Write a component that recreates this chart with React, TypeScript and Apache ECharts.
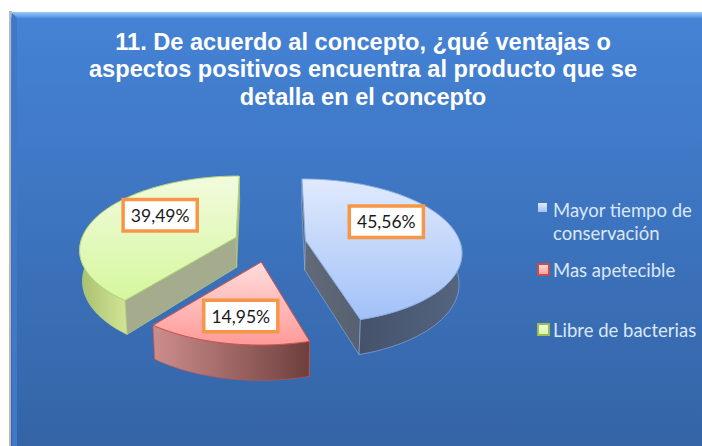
import React, { useEffect, useRef } from "react";
import * as echarts from "echarts";

const titleText = "11. De acuerdo al concepto, ¿qué ventajas o\naspectos positivos encuentra al producto que se\ndetalla en el concepto";
const categories = ["Mayor tiempo de conservación", "Mas apetecible", "Libre de bacterias"];
const shares = [45.56, 14.95, 39.49];

const CX = 269.5, CY = 242.5, R = 154, RY = 70.5, K = 0.151, EXPLODE = 0.24, DEPTH = 30;
const LABEL_OFFSETS = [[81, -18.5], [-20.5, 54], [-76, -22]];
const FONT = "Lato";

const grad = (a: string, b: string, horizontal = false) =>
  new echarts.graphic.LinearGradient(0, 0, horizontal ? 1 : 0, horizontal ? 0 : 1, [
    { offset: 0, color: a },
    { offset: 1, color: b },
  ]);

const looks = [
  { top: ["#e0eafd", "#a2c1f8"], stroke: "#8fb0e6", cut: ["#626a78", "#566070"], outer: ["#44526c", "#56657f"] },
  { top: ["#ffdedd", "#ff9a98"], stroke: "#c9524e", cut: ["#c78a88", "#c78a88"], outer: ["#cc8e8c", "#6e3f3d"] },
  { top: ["#f2fbdd", "#d5f79e"], stroke: "#b5d578", cut: ["#a5ab8d", "#a5ab8d"], outer: ["#a8bf6e", "#d2e596"] },
];

function persp(theta: number) {
  const u = Math.sin(theta), v = -Math.cos(theta);
  const s = 1 / (1 - K * v);
  return { u, v, s, dx: u * R * s, dy: v * RY * s };
}

function renderSlice(index: number) {
  return (_params: any, api: any) => {
    const total = shares.reduce((a, b) => a + b, 0);
    const value = api.value(0) as number;
    const before = shares.slice(0, index).reduce((a, b) => a + b, 0);
    const t0 = (before / total) * Math.PI * 2;
    const t1 = ((before + value) / total) * Math.PI * 2;
    const mid = persp((t0 + t1) / 2);
    const ax = CX + EXPLODE * mid.dx, ay = CY + EXPLODE * mid.dy;
    const look = looks[index];

    const top = (t: number) => {
      const p = persp(t);
      const shift = (ax - CX) * (p.s - 1) * (p.v < 0 ? 0.7 : 0.9);
      return [ax + p.dx + shift, ay + p.dy, p.s];
    };
    const drop = (pt: number[]) => [CX + (pt[0] - CX) * 0.985, pt[1] + DEPTH * pt[2]];
    const xy = (pt: number[]) => [pt[0], pt[1]];
    const apex = [ax, ay, 1];

    const arc = (a: number, b: number) => {
      const n = Math.max(2, Math.ceil(Math.abs(b - a) * 40));
      const out: number[][] = [];
      for (let i = 0; i <= n; i++) out.push(top(a + ((b - a) * i) / n));
      return out;
    };

    const children: any[] = [];
    const wall = (pts: number[][], fill: any) =>
      children.push({
        type: "polygon",
        shape: { points: [...pts.map(xy), ...pts.slice().reverse().map(drop)] },
        style: { fill, stroke: look.stroke, lineWidth: 0.6 },
      });

    wall([apex, top(t0)], grad(look.cut[0], look.cut[1], true));
    wall([apex, top(t1)], grad(look.cut[0], look.cut[1], true));
    const a = Math.max(t0, Math.PI / 2), b = Math.min(t1, (Math.PI * 3) / 2);
    if (b > a) wall(arc(a, b), grad(look.outer[0], look.outer[1], true));

    children.push({
      type: "polygon",
      shape: { points: [xy(apex), ...arc(t0, t1).map(xy)] },
      style: { fill: grad(look.top[0], look.top[1]), stroke: look.stroke, lineWidth: 1 },
    });

    children.push({
      type: "text",
      z2: 10,
      style: {
        x: ax + LABEL_OFFSETS[index][0],
        y: ay + LABEL_OFFSETS[index][1],
        text: value.toFixed(2).replace(".", ",") + "%",
        align: "center",
        verticalAlign: "middle",
        fontFamily: FONT,
        fontSize: 17.5,
        fill: "#1a1a1a",
        backgroundColor: "#ffffff",
        borderColor: "#f79646",
        borderWidth: 3.5,
        padding: [5, 6, 5, 6],
      },
    });
    return { type: "group", children };
  };
}

const legendBase = {
  orient: "horizontal" as const,
  selectedMode: false,
  itemGap: 0,
  textStyle: { color: "#dbe7f7", fontFamily: FONT, fontSize: 18.5, lineHeight: 23, padding: [0, 0, 0, -1] },
  padding: 0,
};

export default function App() {
  const ref = useRef<HTMLDivElement>(null);
  useEffect(() => {
    document.body.style.margin = "0";
    document.body.style.background = "#ffffff";
    const chart = echarts.init(ref.current!, null, { renderer: "svg" });
    chart.setOption({
      animation: false,
      backgroundColor: "#ffffff",
      title: {
        text: titleText,
        left: 358,
        top: 23,
        textAlign: "center",
        textStyle: { color: "#ffffff", fontFamily: "Liberation Sans", fontWeight: "bold", fontSize: 23.6, lineHeight: 27.5 },
      },
      legend: [
        {
          ...legendBase,
          left: 538,
          top: 198,
          icon: "path://M0 0H9V9H0ZM0 36V36Z",
          itemWidth: 9,
          itemHeight: 36,
          data: [categories[0]],
          formatter: (n: string) => n.replace(" de ", " de\n"),
          itemStyle: { color: new echarts.graphic.LinearGradient(0, 0, 0, 0.25, [{ offset: 0, color: "#e0eafd" }, { offset: 1, color: "#a2c1f8" }]), borderWidth: 0 },
          textStyle: { ...legendBase.textStyle, padding: [0, 0, 0, 1] },
        },
        {
          ...legendBase,
          left: 537,
          top: 258,
          icon: "rect",
          itemWidth: 11,
          itemHeight: 11,
          data: [categories[1]],
          itemStyle: { color: grad("#ffdedd", "#ff9a98"), borderColor: "#c0504d", borderWidth: 2 },
        },
        {
          ...legendBase,
          left: 537,
          top: 318,
          icon: "rect",
          itemWidth: 11,
          itemHeight: 11,
          data: [categories[2]],
          itemStyle: { color: grad("#f2fbdd", "#d5f79e"), borderColor: "#9bbb59", borderWidth: 2 },
        },
      ],
      graphic: [
        { type: "rect", z: -10, shape: { x: 9, y: 11, width: 3, height: 435 }, style: { fill: "#b8b8b8" } },
        { type: "rect", z: -9, shape: { x: 11, y: 12, width: 691, height: 434 }, style: { fill: grad("#4583d6", "#3464a6") } },
        { type: "rect", z: -8, shape: { x: 11, y: 12, width: 691, height: 6 }, style: { fill: grad("#9cc8f8", "#4f90e0") } },
        { type: "polygon", z: -7, shape: { points: [[12, 13], [17, 18], [17, 446], [12, 446]] }, style: { fill: "#4078c8" } },
      ],
      series: categories.map((name, i) => ({
        type: "custom",
        name,
        coordinateSystem: "none",
        renderItem: renderSlice(i),
        data: [[shares[i]]],
        silent: true,
      })),
    });
    return () => chart.dispose();
  }, []);
  return <div ref={ref} style={{ width: 702, height: 446 }} />;
}
